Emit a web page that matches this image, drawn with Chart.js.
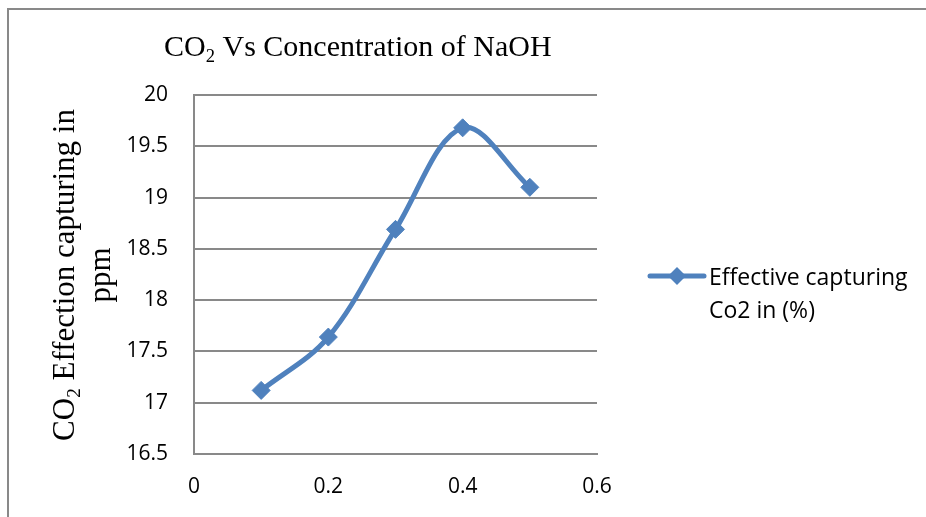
<!DOCTYPE html>
<html>
<head>
<meta charset="utf-8">
<script src="https://cdn.jsdelivr.net/npm/chart.js@4.4.0/dist/chart.umd.min.js"></script>
<style>
    html, body { margin: 0; padding: 0; background: #fff; }
    #contenedor { width: 926px; height: 517px; position: relative; }
</style>
</head>
<body>
<div id="contenedor"><canvas id="chartCo2"></canvas></div>
<script>
// datos
const concentraciones = [0.1, 0.2, 0.3, 0.4, 0.5];
const capturaCo2 = [17.12, 17.64, 18.69, 19.68, 19.10];
const ticksX = [0, 0.2, 0.4, 0.6];
const ticksY = [16.5, 17, 17.5, 18, 18.5, 19, 19.5, 20];

// textos (partes con subindice marcadas como {sub})
const tituloGrafica = [{ t: 'CO' }, { t: '2', sub: true }, { t: ' Vs Concentration of NaOH' }];
const tituloEjeY = [
    [{ t: 'CO' }, { t: '2', sub: true }, { t: ' Effection capturing in' }],
    [{ t: 'ppm' }]
];
const etiquetaSerie = ['Effective capturing', 'Co2 in (%)'];

const colorSerie = '#4f81bd';
const colorGris = '#898989';
const fuenteSerif = '"Liberation Serif", "DejaVu Serif", serif';
const fuenteSans = '"Open Sans", sans-serif';

const dibujarPartes = (ctx, partes, x, y, size) => {
    let posX = x;
    partes.forEach(p => {
        const s = p.sub ? size * 0.62 : size;
        ctx.font = `${s}px ${fuenteSerif}`;
        ctx.fillText(p.t, posX, p.sub ? y + size * 0.2 : y);
        posX += ctx.measureText(p.t).width;
    });
    return posX - x;
};

const medirPartes = (ctx, partes, size) => {
    let w = 0;
    partes.forEach(p => {
        const s = p.sub ? size * 0.62 : size;
        ctx.font = `${s}px ${fuenteSerif}`;
        w += ctx.measureText(p.t).width;
    });
    return w;
};

const pluginDecoracion = {
    id: 'decoracion',
    beforeDraw(chart) {
        const ctx = chart.ctx;
        ctx.save();
        ctx.strokeStyle = colorGris;
        ctx.lineWidth = 2;
        ctx.beginPath();
        ctx.moveTo(926, 9);
        ctx.lineTo(8, 9);
        ctx.lineTo(8, 517);
        ctx.stroke();
        ctx.restore();
    },
    afterDraw(chart) {
        const ctx = chart.ctx;
        ctx.save();
        ctx.fillStyle = '#000';
        ctx.textBaseline = 'alphabetic';

        // titulo
        dibujarPartes(ctx, tituloGrafica, 164, 56, 30);

        // titulo eje Y (rotado)
        const centroY = 275;
        const bases = [74, 110];
        tituloEjeY.forEach((linea, i) => {
            const w = medirPartes(ctx, linea, 31);
            ctx.save();
            ctx.translate(bases[i], centroY);
            ctx.rotate(-Math.PI / 2);
            dibujarPartes(ctx, linea, -w / 2, 0, 31);
            ctx.restore();
        });

        // leyenda
        ctx.strokeStyle = colorSerie;
        ctx.lineWidth = 5;
        ctx.lineCap = 'round';
        ctx.beginPath();
        ctx.moveTo(650, 276);
        ctx.lineTo(704, 276);
        ctx.stroke();
        ctx.fillStyle = colorSerie;
        ctx.beginPath();
        ctx.moveTo(677, 267);
        ctx.lineTo(686, 276);
        ctx.lineTo(677, 285);
        ctx.lineTo(668, 276);
        ctx.closePath();
        ctx.fill();
        ctx.fillStyle = '#000';
        ctx.font = `23px ${fuenteSans}`;
        etiquetaSerie.forEach((txt, i) => {
            ctx.fillText(txt, 709, 285 + i * 33);
        });
        ctx.restore();
    }
};

const canvasCo2 = document.getElementById('chartCo2');
const contextCo2 = canvasCo2.getContext('2d');

const chartCo2 = new Chart(contextCo2, {
    type: 'line',
    data: {
        datasets: [
            {
                label: etiquetaSerie.join(' '),
                data: concentraciones.map((x, i) => ({ x: x, y: capturaCo2[i] })),
                borderColor: colorSerie,
                backgroundColor: colorSerie,
                borderWidth: 5,
                tension: 0.35,
                pointStyle: 'rectRot',
                pointRadius: 9,
                pointBorderWidth: 1,
                fill: false
            }
        ]
    },
    options: {
        responsive: true,
        maintainAspectRatio: false,
        animation: false,
        layout: {
            padding: { left: 0, top: 95, right: 329, bottom: 0 }
        },
        plugins: {
            legend: { display: false },
            title: { display: false },
            tooltip: { enabled: false }
        },
        scales: {
            x: {
                type: 'linear',
                min: 0,
                max: 0.6,
                afterBuildTicks: (scale) => { scale.ticks = ticksX.map(v => ({ value: v })); },
                afterFit: (scale) => { scale.height = 63; },
                grid: { display: false, drawTicks: false },
                border: { display: true, color: colorGris, width: 2 },
                ticks: {
                    padding: 20,
                    color: '#000',
                    font: { family: fuenteSans, size: 21 },
                    callback: (v) => String(v)
                }
            },
            y: {
                min: 16.5,
                max: 20,
                afterBuildTicks: (scale) => { scale.ticks = ticksY.map(v => ({ value: v })); },
                afterFit: (scale) => { scale.width = 194; },
                grid: { color: colorGris, lineWidth: 2, drawTicks: false },
                border: { display: true, color: colorGris, width: 2 },
                ticks: {
                    padding: 26,
                    color: '#000',
                    font: { family: fuenteSans, size: 21 },
                    callback: (v) => String(v)
                }
            }
        }
    },
    plugins: [pluginDecoracion]
});
</script>
</body>
</html>
